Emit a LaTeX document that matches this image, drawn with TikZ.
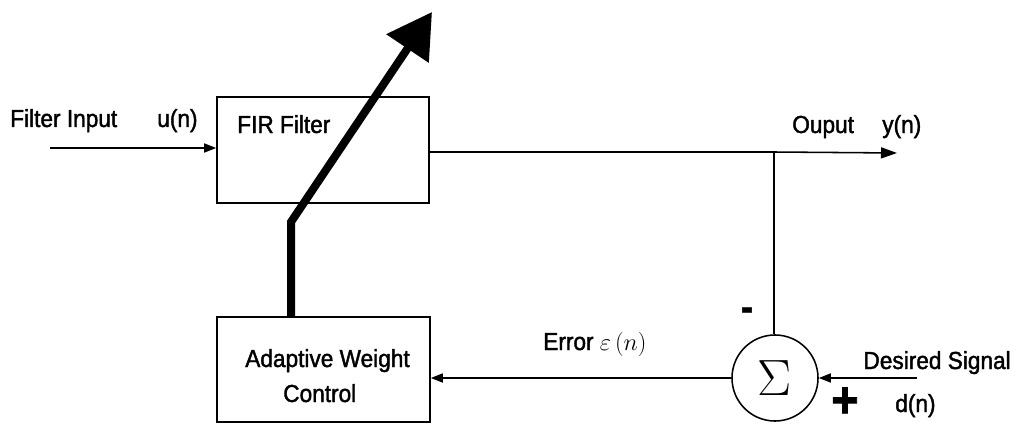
\documentclass[tikz,border=0pt]{standalone}
\usepackage{fontspec}
\setmainfont{Liberation Sans}[FakeBold=1.6,FakeStretch=0.92]
\usetikzlibrary{arrows.meta}
\begin{document}
\begin{tikzpicture}[x=0.025cm,y=-0.025cm,
  thin line/.style={line width=1.1pt},
  box/.style={draw,thin line,rectangle,inner sep=0pt},
  lbl/.style={inner sep=0pt,anchor=base west,font=\fontsize{17.5}{20}\selectfont},
  sarrow/.style={thin line,-{Triangle[length=0.3cm,width=0.225cm]}},
  sarrowL/.style={thin line,-{Triangle[length=0.4cm,width=0.275cm]}}]
\useasboundingbox (0,0) rectangle (1020,427);
% blocks
\node[box,minimum width=5.3cm,minimum height=2.65cm] (fir) at (323,150) {};
\node[box,minimum width=5.325cm,minimum height=2.625cm] (awc) at (323.5,369.5) {};
\node[draw,thin line,circle,minimum size=2.15cm,inner sep=0pt] (sum) at (775,378) {\scalebox{2.1}{\LARGE$\Sigma$}};
% coordinates
\coordinate (in) at (50,148);
\coordinate (j) at (774,152);
\coordinate (out) at (897,153);
\coordinate (des) at (917,378);
\coordinate (kink) at (291,222);
\coordinate (tip) at (432,12);
% connectors
\draw[sarrow] (in) -- (fir.west |- in);
\draw[sarrowL] (fir.east |- j) -- (j) -- (out);
\draw[thin line] (j) -- (sum.north -| j);
\draw[sarrow] (des) -- (sum.east);
\draw[sarrow] (sum.west) -- (awc.east |- sum.west);
\draw[line width=0.2cm,-{Triangle[length=1.1cm,width=1.23cm]}] (awc.north -| kink) -- (kink) -- (tip);
% labels
\node[lbl] (lin) at (10,127) {Filter Input};
\node[lbl] (lun) at (157,127) {u(n)};
\node[lbl] (lfir) at (237,133) {FIR Filter};
\node[lbl] (lout) at (792,133) {Ouput};
\node[lbl] (lyn) at (882,133) {y(n)};
\node[lbl] (lerr) at (543,350) {Error $\mathrm{\varepsilon}\,(n)$};
\node[lbl] (law1) at (245,367) {Adaptive Weight};
\node[lbl] (law2) at (283,402) {Control};
\node[lbl,anchor=base east] (ldes) at (1011,369) {Desired Signal};
\node[lbl] (ldn) at (895,412) {d(n)};
\node[inner sep=0pt,font=\fontsize{28}{28}\selectfont\bfseries] (minus) at (747,314) {-};
\node[inner sep=0pt,text depth=0pt,text height=16pt,font=\fontsize{36}{36}\selectfont\bfseries] (plus) at (845,406) {+};
\end{tikzpicture}
\end{document}
